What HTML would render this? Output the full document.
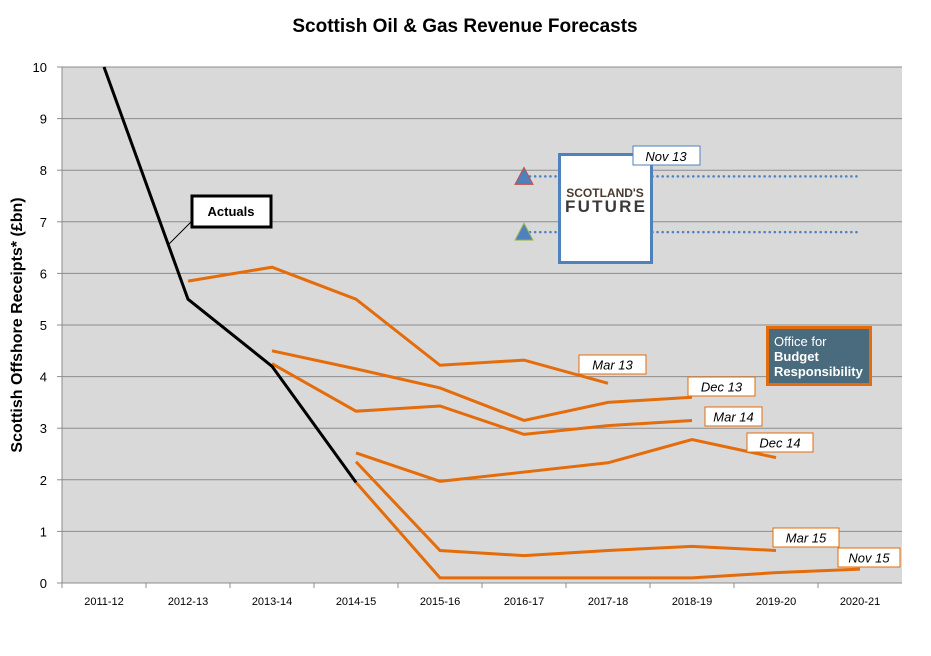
<!DOCTYPE html>
<html><head><meta charset="utf-8"><style>
body{margin:0;background:#fff;font-family:"Liberation Sans",sans-serif}
svg{display:block}
text{font-family:"Liberation Sans",sans-serif}
</style></head><body>
<svg id="chart" width="931" height="656">
<text x="465" y="32" text-anchor="middle" font-size="19" font-weight="bold">Scottish Oil &amp; Gas Revenue Forecasts</text>
<rect x="62" y="67" width="840" height="516" fill="#d9d9d9"/>
<g id="grid"></g><g id="axes"></g><g id="series"></g>
<text transform="translate(22,325) rotate(-90)" text-anchor="middle" font-size="16" font-weight="bold">Scottish Offshore Receipts* (£bn)</text>
</svg>
<script>
const categories=["2011-12","2012-13","2013-14","2014-15","2015-16","2016-17","2017-18","2018-19","2019-20","2020-21"];
const yTicks=[0,1,2,3,4,5,6,7,8,9,10];
const actuals=[10,5.5,4.2,1.95,null,null,null,null,null,null];
const mar13=[null,5.85,6.12,5.5,4.22,4.32,3.87,null,null,null];
const dec13=[null,null,4.5,4.15,3.78,3.15,3.5,3.6,null,null];
const mar14=[null,null,4.25,3.33,3.43,2.88,3.05,3.15,null,null];
const dec14=[null,null,null,2.52,1.97,2.15,2.33,2.78,2.43,null];
const mar15=[null,null,null,2.35,0.63,0.53,0.63,0.71,0.63,null];
const nov15=[null,null,null,1.95,0.1,0.1,0.1,0.1,0.2,0.27];
const nov13Values=[7.88,6.8];
const seriesNames=["Mar 13","Dec 13","Mar 14","Dec 14","Mar 15","Nov 15"];
const NS="http://www.w3.org/2000/svg";
const L=62,T=67,W=840,H=516,step=W/categories.length;
const x=i=>L+step*(i+0.5);
const y=v=>T+H-(v/10)*H;
function mk(tag,attrs,parent){const e=document.createElementNS(NS,tag);for(const k in attrs)e.setAttribute(k,attrs[k]);document.getElementById(parent).appendChild(e);return e;}
yTicks.forEach(v=>{
 if(v>0){const g=mk('line',{x1:L,x2:L+W,y1:y(v),y2:y(v),stroke:'#8c8c8c','stroke-width':1},'grid');
 
 }
 const tk=mk('line',{x1:L-5,x2:L,y1:y(v),y2:y(v),stroke:'#8c8c8c'},'axes');
 
 
 const t=mk('text',{x:L-15,y:y(v)+5,'text-anchor':'end','font-size':13},'axes');t.textContent=v;
 
 
});
const ax=mk('line',{x1:L,x2:L,y1:T,y2:T+H,stroke:'#8c8c8c'},'axes');


const bx=mk('line',{x1:L,x2:L+W,y1:T+H,y2:T+H,stroke:'#8c8c8c'},'axes');


categories.forEach((c,i)=>{
 const tk=mk('line',{x1:L+step*i,x2:L+step*i,y1:T+H,y2:T+H+5,stroke:'#8c8c8c'},'axes');
 
 
 const t=mk('text',{x:x(i),y:T+H+22,'text-anchor':'middle','font-size':11},'axes');t.textContent=c;
 
 
});
function line(data,color,name){
 const pts=[];data.forEach((v,i)=>{if(v!==null)pts.push(x(i)+','+y(v));});
 const p=mk('polyline',{points:pts.join(' '),fill:'none',stroke:color,'stroke-width':3,'stroke-linejoin':'miter'},'series');
 
 
}
// Nov 13 dotted
nov13Values.forEach((v,k)=>{
 const d=mk('line',{x1:x(5)+6,x2:x(9)-2,y1:y(v),y2:y(v),stroke:'#4f81bd','stroke-width':2.5,'stroke-dasharray':'0.1 5','stroke-linecap':'round'},'series');
 
 
 const tr=mk('polygon',{points:`${x(5)},${y(v)-9} ${x(5)-9},${y(v)+8} ${x(5)+9},${y(v)+8}`,fill:'#4f81bd',stroke:k==0?'#c0504d':'#9bbb59','stroke-width':1},'series');
 
 
});
line(mar13,'#e46c0a','mar13-line');
line(dec13,'#e46c0a','dec13-line');
line(mar14,'#e46c0a','mar14-line');
line(dec14,'#e46c0a','dec14-line');
line(mar15,'#e46c0a','mar15-line');
line(nov15,'#e46c0a','nov15-line');
line(actuals,'#000','actuals-line');
function label(txt,x0,y0,w,h,name){
 const r=mk('rect',{x:x0,y:y0,width:w,height:h,fill:'#fff',stroke:'#e46c0a','stroke-width':1},'series');
 
 
 const t=mk('text',{x:x0+w/2,y:y0+h/2+5,'text-anchor':'middle','font-size':13,'font-style':'italic'},'series');t.textContent=txt;
 
 
}
label(seriesNames[0],579,355,67,19,'mar13-label');
label(seriesNames[1],688,377,67,19,'dec13-label');
label(seriesNames[2],705,407,57,19,'mar14-label');
label(seriesNames[3],747,433,66,19,'dec14-label');
label(seriesNames[4],773,528,66,19,'mar15-label');
label(seriesNames[5],838,548,62,19,'nov15-label');
</script>
<svg width="931" height="656" style="position:absolute;left:0;top:0">
<line x1="191" y1="222" x2="168" y2="245" stroke="#000" stroke-width="1"/>
<rect x="192" y="196" width="79" height="31" fill="#fff" stroke="#000" stroke-width="3"/>
<text x="231" y="216" text-anchor="middle" font-size="13" font-weight="bold">Actuals</text>
<rect x="559.5" y="154.5" width="92" height="108" fill="#fff" stroke="#4f81bd" stroke-width="3"/>
<text x="605" y="197" text-anchor="middle" font-size="12" font-weight="bold" fill="#4a3a30">SCOTLAND'S</text>
<text x="605" y="212" text-anchor="middle" font-size="17" font-weight="bold" fill="#3a3a3a" textLength="80">FUTURE</text>
<rect x="633" y="146" width="67" height="19" fill="#fff" stroke="#4f81bd"/>
<text x="666" y="161" text-anchor="middle" font-size="13" font-style="italic">Nov 13</text>
<rect x="767.5" y="327.5" width="103" height="57" fill="#4a6b7d" stroke="#e46c0a" stroke-width="3"/>
<text x="774" y="346" font-size="13" fill="#fff">Office for</text>
<text x="774" y="361" font-size="13" font-weight="bold" fill="#fff">Budget</text>
<text x="774" y="376" font-size="13" font-weight="bold" fill="#fff">Responsibility</text>
</svg>
</body></html>
